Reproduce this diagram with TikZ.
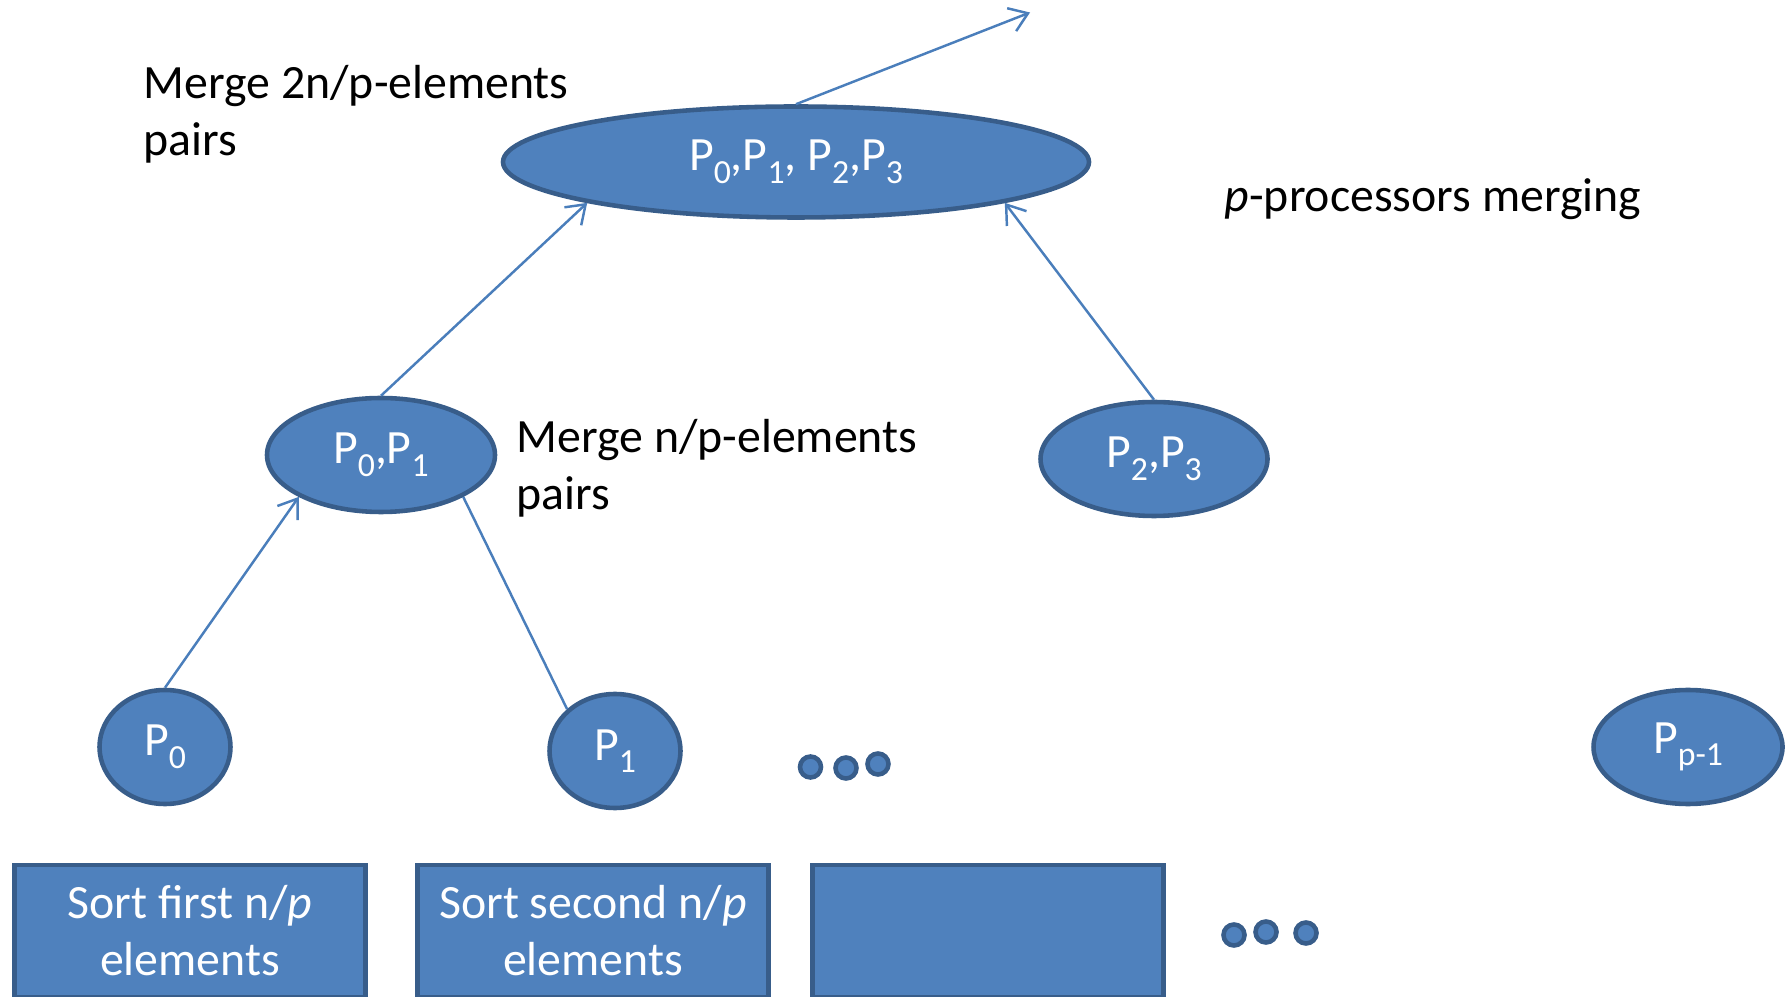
\documentclass[tikz,border=0pt]{standalone}
\usepackage{fontspec}
\setmainfont{Carlito}
\usetikzlibrary{arrows.meta,shapes.geometric}

\definecolor{boxfill}{HTML}{4F81BD}
\definecolor{boxline}{HTML}{385D8A}
\definecolor{linkcol}{HTML}{4A7EBB}
\newcommand{\psub}[1]{\raisebox{-3.6pt}{\fontsize{9.6}{9.6}\selectfont #1}}

\begin{document}
\begin{tikzpicture}[>={Straight Barb[length=5pt,width=7pt]},
    font=\fontsize{13.6}{16.2}\selectfont,
    proc/.style={ellipse, draw=boxline, fill=boxfill, line width=1.3pt,
        text=white, inner sep=0pt, minimum height=1.14cm},
    sortbox/.style={rectangle, draw=boxline, fill=boxfill, line width=1.3pt,
        text=white, align=center, minimum width=3.51cm, minimum height=1.32cm},
    link/.style={draw=linkcol, line width=0.7pt},
    dot/.style={draw=boxline, fill=boxfill, line width=1.3pt}]
    % page frame
    \useasboundingbox (0,0) rectangle (17.85,9.96);
    \clip (0,0) rectangle (17.85,9.96);

    % merge tree
    \node[proc, minimum width=5.86cm, minimum height=1.11cm] (top) at (7.96, 8.34)
        {P\psub{0},P\psub{1}, P\psub{2},P\psub{3}};
    \node[proc, minimum width=2.28cm] (p01) at (3.81, 5.41) {P\psub{0},P\psub{1}};
    \node[proc, minimum width=2.27cm] (p23) at (11.54, 5.37) {P\psub{2},P\psub{3}};

    % single processors
    \node[proc, minimum width=1.31cm] (p0) at (1.65, 2.49) {P\psub{0}};
    \node[proc, minimum width=1.31cm] (p1) at (6.15, 2.45) {P\psub{1}};
    \node[proc, minimum width=1.89cm] (pp) at (16.88, 2.49) {P\psub{p-1}};

    % local sorting
    \node[sortbox] (sort1) at (1.90, 0.65) {Sort first n/\textit{p}\\elements};
    \node[sortbox] (sort2) at (5.93, 0.65) {Sort second n/\textit{p}\\elements};
    \node[sortbox] (sort3) at (9.88, 0.65) {};

    % dots
    \foreach \x/\y in {8.105/2.29, 8.46/2.28, 8.78/2.32, 12.34/0.61, 12.66/0.64, 13.06/0.63}
        \draw[dot] (\x, \y) circle (0.105);

    % labels
    \node[anchor=west, align=left, inner sep=0pt] (lab2n) at (1.43, 8.815)
        {Merge 2n/p-elements\\pairs};
    \node[anchor=west, align=left, inner sep=0pt] (labn) at (5.16, 5.275)
        {Merge n/p-elements\\pairs};
    \node[anchor=west, inner sep=0pt] (labp) at (12.24, 7.97)
        {\textit{p}-processors merging};

    % connectors
    \coordinate (out) at (10.30, 9.835);
    \draw[link, ->] (top.north) -- (out);
    \draw[link, ->] (p01.north) -- (top.south west);
    \draw[link, ->] (p23.north) -- (top.south east);
    \draw[link, ->] (p0.north) -- (p01.south west);
    \draw[link] (p1.north west) -- (p01.south east);
\end{tikzpicture}
\end{document}
